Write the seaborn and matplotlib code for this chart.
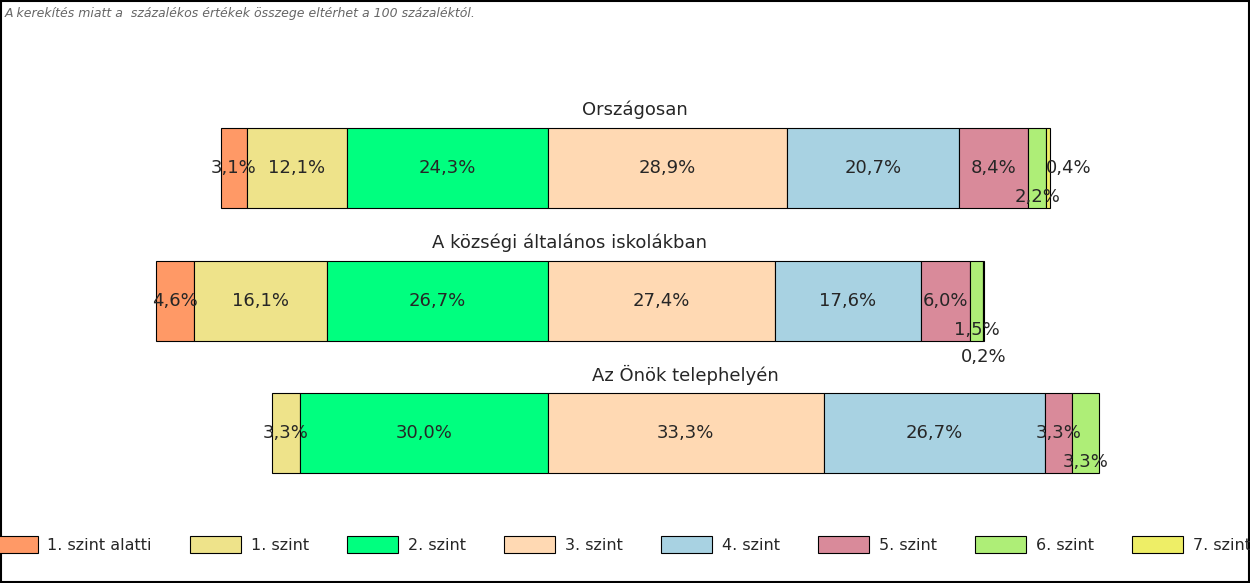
import matplotlib.pyplot as plt
import seaborn as sns
from matplotlib.patches import Patch, Rectangle

sns.set_style("white")

rows = ["Országosan", "A községi általános iskolákban", "Az Önök telephelyén"]
levels = ["1. szint alatti", "1. szint", "2. szint", "3. szint",
          "4. szint", "5. szint", "6. szint", "7. szint"]
colors = ["#FF9966", "#EEE38A", "#00FF7F", "#FFD9B3",
          "#A8D2E2", "#D98A9A", "#AEEE77", "#EEEE66"]

orszagos = [3.1, 12.1, 24.3, 28.9, 20.7, 8.4, 2.2, 0.4]
kozsegi = [4.6, 16.1, 26.7, 27.4, 17.6, 6.0, 1.5, 0.2]
telephely = [0.0, 3.3, 30.0, 33.3, 26.7, 3.3, 3.3, 0.0]
values = [orszagos, kozsegi, telephely]

# vertical label offsets (fraction of bar height) for thin tail segments
label_shift = {(0, 6): 0.36, (0, 7): 0.0, (1, 6): 0.36, (1, 7): 0.7, (2, 5): 0.0, (2, 6): 0.36}
label_dx = {(0, 7): 0.25}

px = 8.28            # pixels per percent
centre = 548         # boundary between 2. and 3. szint
bar_y = [168, 301, 433]
bar_h = 80

fig = plt.figure(figsize=(12.5, 5.83), dpi=100)
ax = fig.add_axes([0, 0, 1, 1])
ax.set_xlim(-centre / px, (1250 - centre) / px)
ax.set_ylim(583, 0)
ax.axis("off")

for r, (name, vals) in enumerate(zip(rows, values)):
    left = -sum(vals[:3])
    y = bar_y[r]
    for c, v in enumerate(vals):
        if v > 0:
            ax.barh(y, v, left=left, height=bar_h, color=colors[c],
                    edgecolor="black", linewidth=0.8)
            txt = f"{v:.1f}%".replace(".", ",")
            dy = label_shift.get((r, c), 0) * bar_h
            dx = label_dx.get((r, c), 0)
            ax.text(left + v / 2 + dx * 10, y + dy, txt, ha="center", va="center", fontsize=13)
        left += v
    ax.text(0.5 * (-sum(vals[:3]) + sum(vals[3:])) * 0 + (sum(vals[3:]) - sum(vals[:3])) / 2,
            y - bar_h / 2 - 18, name, ha="center", va="center", fontsize=13)

fig.text(0.004, 0.976, "A kerekítés miatt a  százalékos értékek összege eltérhet a 100 százaléktól.",
         fontsize=9, style="italic", color="#666666", ha="left", va="center")

handles = [Patch(facecolor=col, edgecolor="black", linewidth=0.8) for col in colors]
fig.legend(handles, levels, loc="center", bbox_to_anchor=(0.495, 0.066), ncol=8,
           frameon=False, fontsize=11.5, handlelength=3.2, handleheight=1.3,
           columnspacing=2.4, handletextpad=0.6)

fig.add_artist(Rectangle((0.0008, 0.0015), 0.998, 0.996, transform=fig.transFigure,
                         fill=False, edgecolor="black", linewidth=1.5))

fig.savefig("out.png", dpi=100)
